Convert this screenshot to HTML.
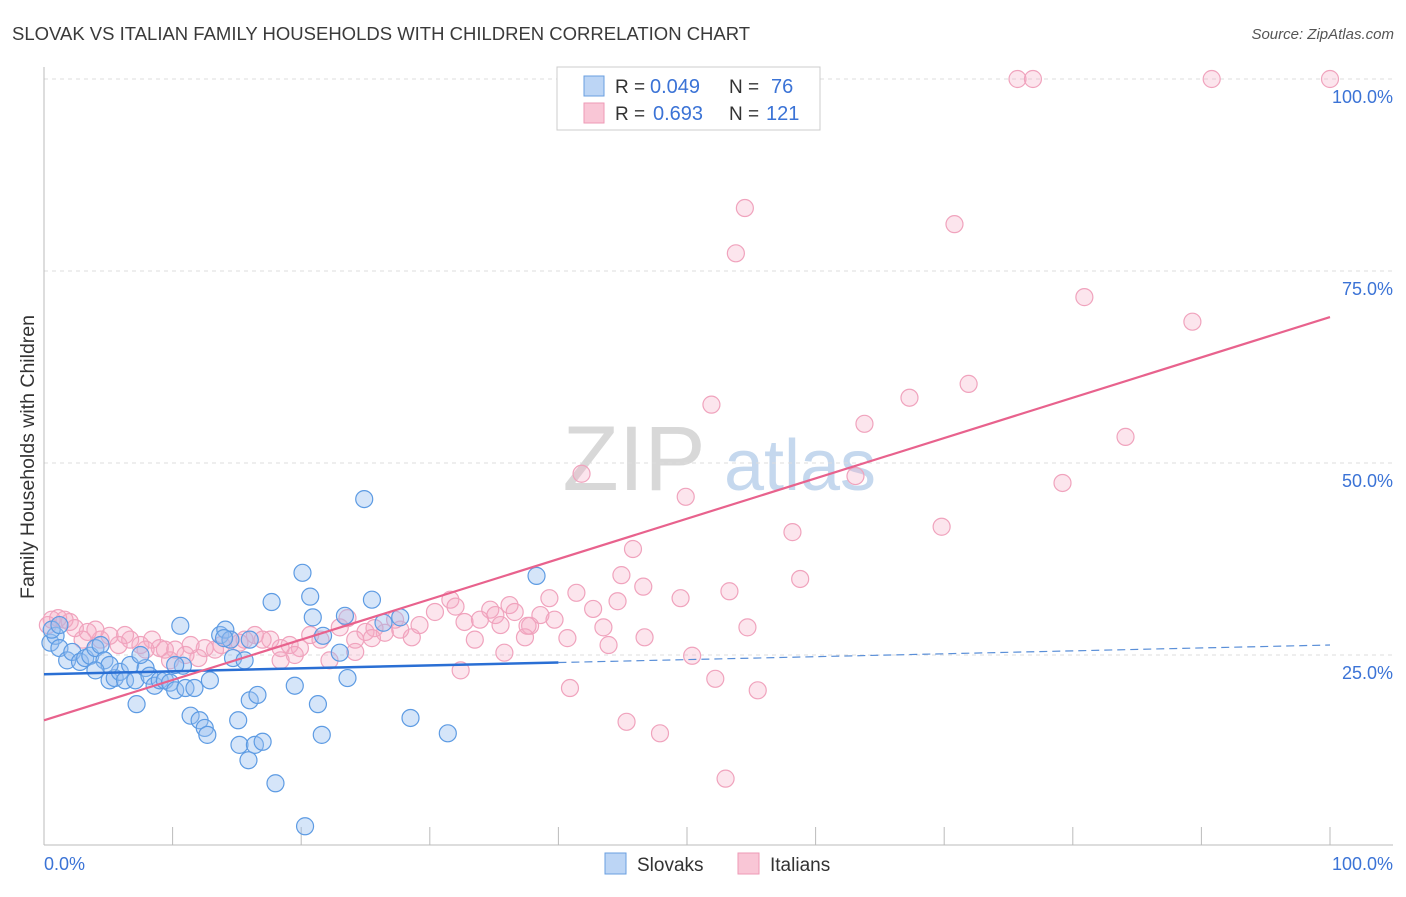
<!DOCTYPE html>
<html><head><meta charset="utf-8"><style>
body{margin:0;background:#fff;font-family:"Liberation Sans",sans-serif;}
svg text{font-family:"Liberation Sans",sans-serif;}
</style></head><body>
<svg id="chart" width="1406" height="892" viewBox="0 0 1406 892" xmlns="http://www.w3.org/2000/svg">
<text x="12" y="40" font-size="18.5" fill="#3a3a3a">SLOVAK VS ITALIAN FAMILY HOUSEHOLDS WITH CHILDREN CORRELATION CHART</text>
<text x="1394" y="39" font-size="15" fill="#555" text-anchor="end" font-style="italic">Source: ZipAtlas.com</text>
<g>
<text x="634" y="490" font-size="92" fill="#d8d8d8" font-family="Liberation Serif" text-anchor="middle">ZIP</text>
<text x="800" y="490" font-size="72" fill="#c5d8ee" text-anchor="middle">atlas</text>
</g>
<g id="grid"></g>
<g id="axes"></g>
<g id="marks"></g>
<g id="lines"></g>
<text transform="translate(34,457) rotate(-90)" font-size="19.5" fill="#333" text-anchor="middle">Family Households with Children</text>
<g>
<rect x="557" y="67" width="263" height="63" fill="#fff" stroke="#ccc"/>
<rect x="584" y="76" width="20" height="20" fill="#bcd5f5" stroke="#6a9fe0"/>
<text x="615" y="93" font-size="19" fill="#333">R =</text>
<text x="650" y="93" font-size="20" fill="#3b73d6">0.049</text>
<text x="729" y="93" font-size="19" fill="#333">N =</text>
<text x="771" y="93" font-size="20" fill="#3b73d6">76</text>
<rect x="584" y="103" width="20" height="20" fill="#f9c6d6" stroke="#ee9ab6"/>
<text x="615" y="120" font-size="19" fill="#333">R =</text>
<text x="653" y="120" font-size="20" fill="#3b73d6">0.693</text>
<text x="729" y="120" font-size="19" fill="#333">N =</text>
<text x="766" y="120" font-size="20" fill="#3b73d6">121</text>
</g>
<g>
<rect x="605" y="853" width="21" height="21" fill="#bcd5f5" stroke="#6a9fe0"/>
<text x="637" y="871" font-size="19" fill="#333">Slovaks</text>
<rect x="738" y="853" width="21" height="21" fill="#f9c6d6" stroke="#ee9ab6"/>
<text x="770" y="871" font-size="19" fill="#333">Italians</text>
</g>
</svg>
<script>
const slovakX=[0.5,0.9,0.6,1.2,1.8,2.2,2.8,3.2,3.6,4.0,4.4,4.7,5.1,5.5,5.9,6.3,6.7,7.1,7.2,7.9,8.2,8.6,9.0,9.4,9.8,10.2,10.6,10.8,11.0,11.4,11.7,12.1,12.5,12.7,12.9,13.7,14.1,14.5,14.7,15.1,15.2,15.6,15.9,16.0,16.4,16.6,17.0,17.7,18.0,19.5,20.1,20.3,20.7,20.9,21.3,21.6,21.7,23.0,23.4,23.6,24.9,25.5,26.4,27.7,28.5,31.4,38.3,14.0,7.5,10.2,16.0,5.1,4.0,1.2];
const slovakY=[26.6,27.5,28.3,25.9,24.3,25.4,24.1,24.6,24.9,25.9,26.3,24.3,21.7,22.0,22.8,21.7,23.7,21.7,18.6,23.3,22.3,21.0,21.7,21.7,21.4,20.4,28.8,23.6,20.7,17.1,20.7,16.5,15.5,14.6,21.7,27.6,28.3,27.0,24.6,16.5,13.3,24.3,11.3,19.1,13.3,19.8,13.7,31.9,8.3,21.0,35.7,2.7,32.6,29.9,18.6,14.6,27.5,25.3,30.1,22.0,45.3,32.2,29.2,29.9,16.8,14.8,35.3,27.2,25.0,23.7,27.0,23.7,23.0,28.9];
const italianX=[75.7,76.9,90.8,100,54.5,70.8,53.8,80.9,89.3,71.9,51.9,67.3,63.8,84.1,41.8,63.1,49.9,79.2,69.8,58.2,45.8,58.8,44.9,46.6,49.5,53.3,39.3,41.4,42.7,44.6,36.2,37.8,38.6,39.7,43.5,46.7,43.9,54.7,40.7,50.4,32.4,40.9,52.2,55.5,45.3,47.9,53.0,35.8,29.2,30.4,31.6,32.0,32.7,33.5,34.7,35.1,35.5,36.6,37.4,37.6,33.9,28.6,27.7,27.3,26.5,25.7,25.0,24.2,23.6,23.0,22.2,21.5,20.7,19.9,19.1,18.4,17.6,17.0,16.4,15.6,15.2,14.5,13.8,13.3,12.5,12.0,11.4,11.0,10.2,9.8,9.4,9.0,8.4,7.9,7.5,6.7,6.3,5.8,5.1,4.4,4.0,3.4,3.0,2.4,2.0,1.6,1.1,0.6,0.3,24.2,25.5,19.5,18.4];
const italianY=[100,100,100,100,83.2,81.1,77.3,71.6,68.4,60.3,57.6,58.5,55.1,53.4,48.6,48.3,45.6,47.4,41.7,41.0,38.8,34.9,35.4,33.9,32.4,33.3,32.4,33.1,31.0,32.0,31.5,28.8,30.2,29.6,28.6,27.3,26.3,28.6,27.2,24.9,23.0,20.7,21.9,20.4,16.3,14.8,8.9,25.3,28.9,30.6,32.2,31.3,29.3,27.0,30.9,30.2,28.9,30.6,27.3,28.8,29.6,27.3,28.3,29.6,27.9,28.5,28.0,27.0,29.8,28.6,24.3,27.0,27.6,25.9,26.3,25.9,27.0,27.0,27.6,27.0,26.6,27.0,26.3,25.7,25.9,24.6,26.3,25.0,25.7,24.3,25.7,25.9,27.0,25.7,26.3,27.0,27.6,26.3,27.5,27.0,28.3,28.0,27.0,28.5,29.3,29.6,29.8,29.6,28.9,25.4,27.2,25.0,24.3];
const yTicks=[25,50,75,100];
const yTickLabels=["25.0%","50.0%","75.0%","100.0%"];
const xTicks=[0,10,20,30,40,50,60,70,80,90,100];
const slovakLine=[22.5,26.3];
const slovakSolidEnd=40;
const italianLine=[16.5,69.0];

const NS="http://www.w3.org/2000/svg";
const X=v=>44+v*12.86, Y=v=>847-v*7.68;
function mk(tag,attrs,parent){const e=document.createElementNS(NS,tag);for(const k in attrs)e.setAttribute(k,attrs[k]);parent.appendChild(e);return e;}
const grid=document.getElementById('grid'),axes=document.getElementById('axes'),marks=document.getElementById('marks'),lines=document.getElementById('lines');
yTicks.forEach((t,i)=>{
 const g=mk('line',{x1:44,x2:1393,y1:Y(t),y2:Y(t),stroke:'#ddd','stroke-dasharray':'4,4'},grid);
 
 
 const l=mk('text',{x:1393,y:Y(t)+24,'font-size':18,fill:'#3b73d6','text-anchor':'end'},axes);
 l.textContent=yTickLabels[i];
 
 
});
const ya=mk('line',{x1:44,x2:44,y1:67,y2:845,stroke:'#bbb'},axes);


const xa=mk('line',{x1:44,x2:1393,y1:845,y2:845,stroke:'#bbb'},axes);


xTicks.forEach(t=>{
 const tk=mk('line',{x1:X(t),x2:X(t),y1:827,y2:845,stroke:'#bbb'},axes);
 
 
});
const xl0=mk('text',{x:44,y:870,'font-size':18,fill:'#3b73d6'},axes);xl0.textContent='0.0%';


const xl1=mk('text',{x:1393,y:870,'font-size':18,fill:'#3b73d6','text-anchor':'end'},axes);xl1.textContent='100.0%';


italianX.forEach((v,i)=>{
 const c=mk('circle',{cx:X(v),cy:Y(italianY[i]),r:8.5,fill:'rgba(245,170,196,0.3)',stroke:'#f0a3bd','stroke-width':1.2},marks);
 
 
});
slovakX.forEach((v,i)=>{
 const c=mk('circle',{cx:X(v),cy:Y(slovakY[i]),r:8.5,fill:'rgba(150,190,240,0.4)',stroke:'#5d9be3','stroke-width':1.2},marks);
 
 
});
const sv=x=>slovakLine[0]+(slovakLine[1]-slovakLine[0])*x/100;
const s1=mk('line',{x1:X(0),y1:Y(sv(0)),x2:X(slovakSolidEnd),y2:Y(sv(slovakSolidEnd)),stroke:'#2a6fd4','stroke-width':2.5},lines);


const s2=mk('line',{x1:X(slovakSolidEnd),y1:Y(sv(slovakSolidEnd)),x2:X(100),y2:Y(sv(100)),stroke:'#5a8fd8','stroke-width':1.2,'stroke-dasharray':'8,5'},lines);


const p1=mk('line',{x1:X(0),y1:Y(italianLine[0]),x2:X(100),y2:Y(italianLine[1]),stroke:'#e8628d','stroke-width':2.2},lines);


</script>
</body></html>
